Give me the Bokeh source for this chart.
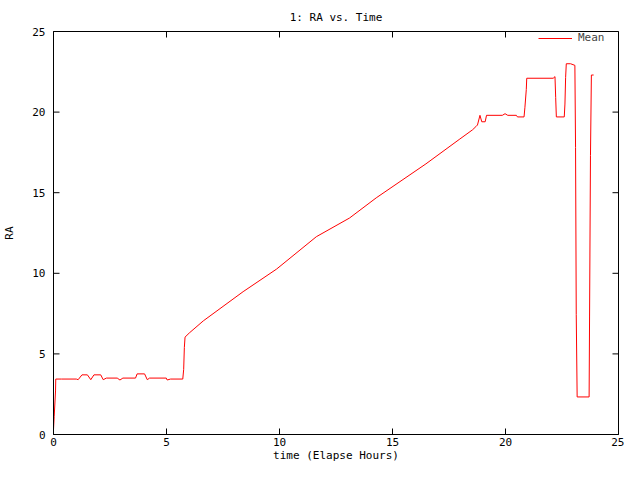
import numpy as np
from bokeh.plotting import figure
from bokeh.models import (Range1d, FixedTicker, Legend, LegendItem,
                          ColumnDataSource)
from bokeh.embed import file_html
from bokeh.resources import INLINE

# ---- data ----
time_hours = [0.0, 0.03, 0.09, 0.1, 0.35, 1.01, 1.09, 1.26, 1.5, 1.65,
              1.79, 2.09, 2.2, 2.34, 2.82, 2.94, 3.07, 3.63, 3.7, 4.03,
              4.15, 4.25, 4.99, 5.03, 5.18, 5.72, 5.76, 5.79, 5.82, 6.01,
              6.63, 8.39, 9.87, 11.63, 13.1, 14.28, 16.48, 17.95, 18.54, 18.69,
              18.76, 18.87, 18.95, 19.1, 19.16, 19.86, 19.98, 20.1, 20.48, 20.53,
              20.82, 20.86, 20.92, 20.94, 22.11, 22.19, 22.22, 22.25, 22.6, 22.63,
              22.66, 22.69, 22.88, 23.07, 23.1, 23.13, 23.17, 23.7, 23.72, 23.76,
              23.8, 23.9]
ra_mean = [0.3, 1.1, 2.7, 3.44, 3.44, 3.44, 3.4, 3.7, 3.7, 3.4,
           3.7, 3.7, 3.4, 3.5, 3.5, 3.38, 3.5, 3.5, 3.76, 3.76,
           3.4, 3.5, 3.5, 3.38, 3.44, 3.44, 4.04, 5.4, 6.04, 6.3,
           7.05, 8.86, 10.26, 12.27, 13.43, 14.68, 16.79, 18.3, 18.9, 19.1,
           19.2, 19.8, 19.4, 19.4, 19.8, 19.8, 19.9, 19.8, 19.8, 19.7,
           19.7, 20.3, 21.4, 22.1, 22.1, 22.2, 20.9, 19.7, 19.7, 20.5,
           22.15, 23.0, 23.0, 22.9, 17.8, 7.45, 2.33, 2.33, 7.35, 17.3,
           22.3, 22.3]
x_ticks = [0, 5, 10, 15, 20, 25]
y_ticks = [0, 5, 10, 15, 20, 25]
title_text = "1: RA vs. Time"
x_label = "time (Elapse Hours)"
y_label = "RA"
series_name = "Mean"

FONT = "DejaVu Sans Mono"
FS = "11px"
X0, X1, Y0, Y1 = 0, 25, 0, 25

p = figure(width=624, height=464, output_backend="svg", toolbar_location=None,
           x_range=Range1d(X0, X1), y_range=Range1d(Y0, Y1),
           min_border_left=50, min_border_right=6, min_border_top=30,
           min_border_bottom=27, title=title_text)
p.background_fill_color = "white"
p.border_fill_color = "white"
p.outline_line_color = "black"
p.outline_line_width = 1
p.grid.visible = False

p.title.align = "center"
p.title.text_font = FONT
p.title.text_font_size = FS
p.title.text_font_style = "normal"
p.title.text_color = "black"
p.title.standoff = 16

def style_axis(ax, ticks):
    ax.ticker = FixedTicker(ticks=ticks)
    ax.minor_tick_line_color = None
    ax.major_tick_in = 0
    ax.major_tick_out = 0
    ax.major_tick_line_color = None
    ax.axis_line_color = "black"
    ax.major_label_text_font = FONT
    ax.major_label_text_font_size = FS
    ax.major_label_text_color = "black"
    ax.axis_label_text_font = FONT
    ax.axis_label_text_font_size = FS
    ax.axis_label_text_font_style = "normal"
    ax.axis_label_text_color = "black"

xa = p.xaxis[0]
ya = p.yaxis[0]
style_axis(xa, x_ticks)
style_axis(ya, y_ticks)
xa.axis_label = x_label
ya.axis_label = y_label
xa.major_label_standoff = 3
xa.axis_label_standoff = 0
ya.major_label_standoff = 8
ya.axis_label_standoff = 13

# inward tick marks on all four borders: 12 px dashes centred on the border,
# the outer half is clipped away by the frame, leaving 6 px pointing inward
nx, ny = len(x_ticks), len(y_ticks)
tick_kw = dict(marker="dash", size=12, line_color="black", line_width=1)
p.scatter(x=x_ticks, y=[Y0] * nx, angle=np.pi / 2, **tick_kw)
p.scatter(x=x_ticks, y=[Y1] * nx, angle=np.pi / 2, **tick_kw)
p.scatter(x=[X0] * ny, y=y_ticks, angle=0.0, **tick_kw)
p.scatter(x=[X1] * ny, y=y_ticks, angle=0.0, **tick_kw)

src = ColumnDataSource(data=dict(t=time_hours, ra=ra_mean))
line = p.line("t", "ra", source=src, line_color="#ff0000", line_width=1)

legend = Legend(items=[LegendItem(label=series_name, renderers=[line])],
                location=(485, 390), orientation="vertical")
legend.border_line_color = None
legend.background_fill_alpha = 0
legend.label_text_font = FONT
legend.label_text_font_size = FS
legend.glyph_width = 34
legend.glyph_height = 10
legend.label_height = 10
legend.label_standoff = 6
legend.padding = 0
legend.margin = 0
p.add_layout(legend)

open("out.html", "w").write(file_html(p, INLINE))
